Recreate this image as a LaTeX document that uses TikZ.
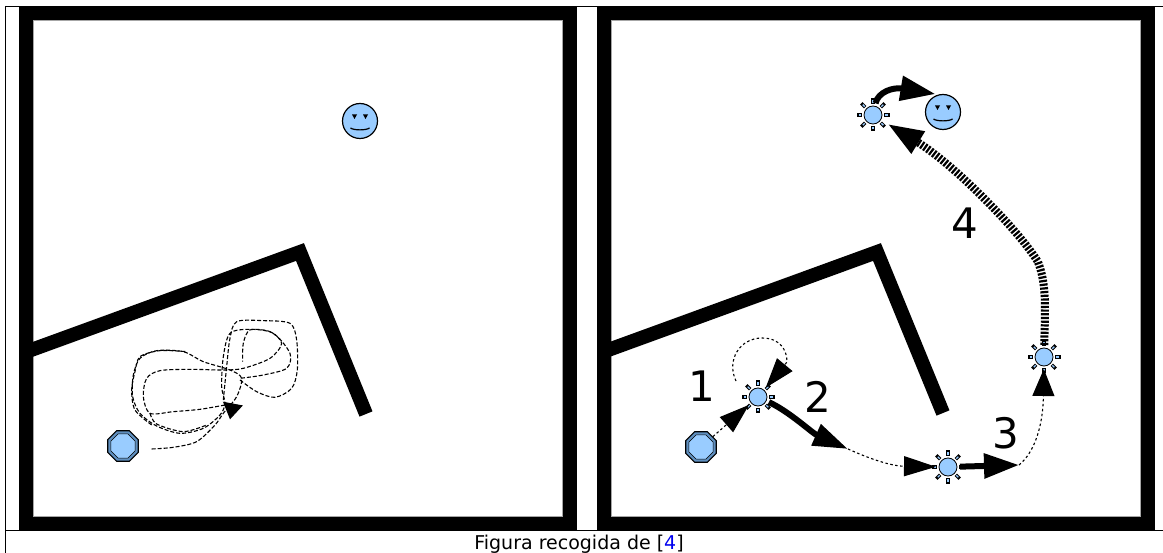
\documentclass[tikz,border=0pt]{standalone}
\usepackage{fontspec}
\setmainfont{DejaVu Sans}
\usetikzlibrary{arrows.meta,shapes.geometric,calc}
\definecolor{softblue}{HTML}{99CCFF}
\definecolor{ringblue}{HTML}{5F8FBF}
\definecolor{linkblue}{HTML}{0000EE}
\tikzset{
  x=1pt,y=-1pt,
  panel/.style={draw=black,line width=14pt,miter limit=10},
  paneledge/.style={draw=black!35,line width=.7pt},
  wall/.style={draw=black,line width=14pt,miter limit=10},
  tableline/.style={draw=black,line width=1.5pt},
  numlabel/.style={font=\fontsize{42}{42}\selectfont,inner sep=0pt,text=black},
  thinpath/.style={draw=black,line width=1.1pt,dash pattern=on 2.5pt off 2.5pt},
  scribble/.style={draw=black,line width=1.1pt,dash pattern=on 4pt off 2pt,smooth},
  thickpath/.style={draw=black,line width=6pt},
  goalface/.style={circle,draw=black,line width=1.2pt,fill=softblue,minimum size=35pt,inner sep=0pt,outer sep=2pt},
  octagon/.style={regular polygon,regular polygon sides=8,inner sep=0pt},
  robotouter/.style={octagon,draw=black,line width=1.1pt,fill=ringblue,minimum size=33pt},
  robotinner/.style={octagon,fill=softblue,draw=black,line width=.5pt,minimum size=26pt},
  waycore/.style={circle,draw=black,line width=.8pt,fill=softblue,minimum size=18pt,inner sep=0pt,outer sep=3pt}
}
\newcommand{\smileface}[3]{%
  \node[goalface] (#1) at (#2,#3) {};
  \fill[black] ([shift={(-8,-6.5)}]#1.center) -- ([shift={(-3,-6.5)}]#1.center) -- ([shift={(-5.5,-2)}]#1.center) -- cycle;
  \fill[black] ([shift={(3,-6.5)}]#1.center) -- ([shift={(8,-6.5)}]#1.center) -- ([shift={(5.5,-2)}]#1.center) -- cycle;
  \draw[black,line width=1.2pt] ([shift={(-9.5,7)}]#1.center) .. controls ([shift={(-6,9.5)}]#1.center) and ([shift={(6,9.5)}]#1.center) .. ([shift={(9.5,7)}]#1.center);
}
\newcommand{\robotmark}[3]{%
  \node[robotouter] (#1) at (#2,#3) {};
  \node[robotinner] (#1in) at (#2,#3) {};
}
\newcommand{\waymark}[3]{%
  \node[waycore] (#1) at (#2,#3) {};
  \foreach \a in {0,45,...,315}{
    \draw[black,line width=3.5pt] ([shift={(\a:11)}]#1.center) -- ([shift={(\a:16.5)}]#1.center);
    \draw[softblue,line width=1.4pt] ([shift={(\a:11.8)}]#1.center) -- ([shift={(\a:14.5)}]#1.center);
  }
}
\begin{document}
\begin{tikzpicture}
\useasboundingbox (0,0) rectangle (1163,553);
\fill[white] (0,0) rectangle (1163,553);
% table rules
\draw[tableline] (5.7,6.7) -- (1163,6.7);
\draw[tableline] (5.7,530.5) -- (1163,530.5);
\draw[tableline] (5.7,6) -- (5.7,553);
% panels
\draw[panel] (26,13) rectangle (570,524);
\draw[panel] (604,13) rectangle (1147.5,524);
\draw[paneledge] (33.3,20.3) rectangle (562.7,516.7);
\draw[paneledge] (611.3,20.3) rectangle (1140.2,516.7);
% inner walls
\draw[wall] (27,351.5) -- (300,252) -- (366,414);
\draw[wall] (604,351.5) -- (877,252) -- (943,413);
% left scene
\smileface{goalA}{360}{121}
\robotmark{robotA}{123}{446}
\begin{scope}[shift={(90,300)},x=0.3333pt,y=-0.3333pt]
\draw[scribble] plot coordinates {(185,447) (250,442) (320,425) (375,375) (400,340) (440,290) (455,235) (420,210) (340,185) (280,155) (200,152) (150,175) (130,225) (128,290) (150,340) (200,378) (270,400) (340,385) (390,345) (405,310) (395,260) (400,170) (420,100) (480,88) (550,100) (600,160) (590,205) (520,225) (450,235)};
\draw[scribble] plot coordinates {(405,315) (330,328) (250,335) (180,340) (160,290) (170,235) (210,212) (300,208) (400,210) (460,205) (540,175) (575,130) (540,95) (480,90) (460,130) (458,185)};
\draw[scribble] plot coordinates {(450,240) (500,275) (555,292) (605,265) (622,210) (620,120) (600,70) (520,62) (440,65) (420,115) (410,200) (400,300)};
\draw[scribble] plot coordinates {(180,340) (200,372) (280,395) (350,375)};
\draw[scribble] plot coordinates {(185,375) (135,330) (125,270) (135,215) (150,170) (210,152) (290,155)};
\coordinate (scrA) at (428,315);
\coordinate (scrB) at (420,358);
\end{scope}
\draw[line width=1pt,-{Triangle[length=16pt,width=20pt]}] (scrA) -- (scrB);
% right scene
\smileface{goalB}{943}{112}
\robotmark{robotB}{701}{447}
\waymark{wayA}{758}{397}
\waymark{wayB}{948}{467}
\waymark{wayC}{1044}{357}
\waymark{wayD}{873}{115}
\coordinate (kneeA) at (848,449);
\coordinate (kneeB) at (1019,465);
\coordinate (loopS) at (736,381);
% connectors
\draw[thinpath,-{Triangle[length=30pt,width=20pt]}] (robotB) -- (wayA);
\draw[thinpath,-{Triangle[length=30pt,width=20pt]}] (loopS) .. controls (726,360) and (740,338) .. (762,338) .. controls (780,338) and (787,350) .. (787,362) -- (wayA);
\draw[thickpath,-{Triangle[length=35pt,width=22pt]}] (wayA) .. controls (790,412) and (812,433) .. (kneeA);
\draw[thinpath,-{Triangle[length=32pt,width=20pt]}] (kneeA) .. controls (868,458) and (890,466) .. (wayB);
\draw[thickpath,-{Triangle[length=35pt,width=24pt]}] (wayB) -- (kneeB);
\draw[thinpath,-{Triangle[length=27pt,width=22pt]}] (kneeB) .. controls (1035,452) and (1043,425) .. (wayC);
\draw[draw=black,line width=8pt,dash pattern=on 2.2pt off 1.5pt,shorten >=5pt,-{Triangle[length=36pt,width=24pt]}] (wayC) .. controls (1045,310) and (1047,285) .. (1038,262) .. controls (1020,232) and (955,165) .. (wayD);
\draw[thickpath,-{Triangle[length=35pt,width=24pt]}] (wayD) .. controls (878,92) and (893,87) .. (goalB.113);
% numbers
\node[numlabel] (numA) at (702,386) {1};
\node[numlabel] (numB) at (818,397) {2};
\node[numlabel] (numC) at (1006,433) {3};
\node[numlabel] (numD) at (965,223) {4};
% caption
\node[font=\fontsize{19}{20}\selectfont,inner sep=0pt,anchor=base] (caption) at (579,549) {Figura recogida de [{\color{linkblue}4}]};
\end{tikzpicture}
\end{document}
